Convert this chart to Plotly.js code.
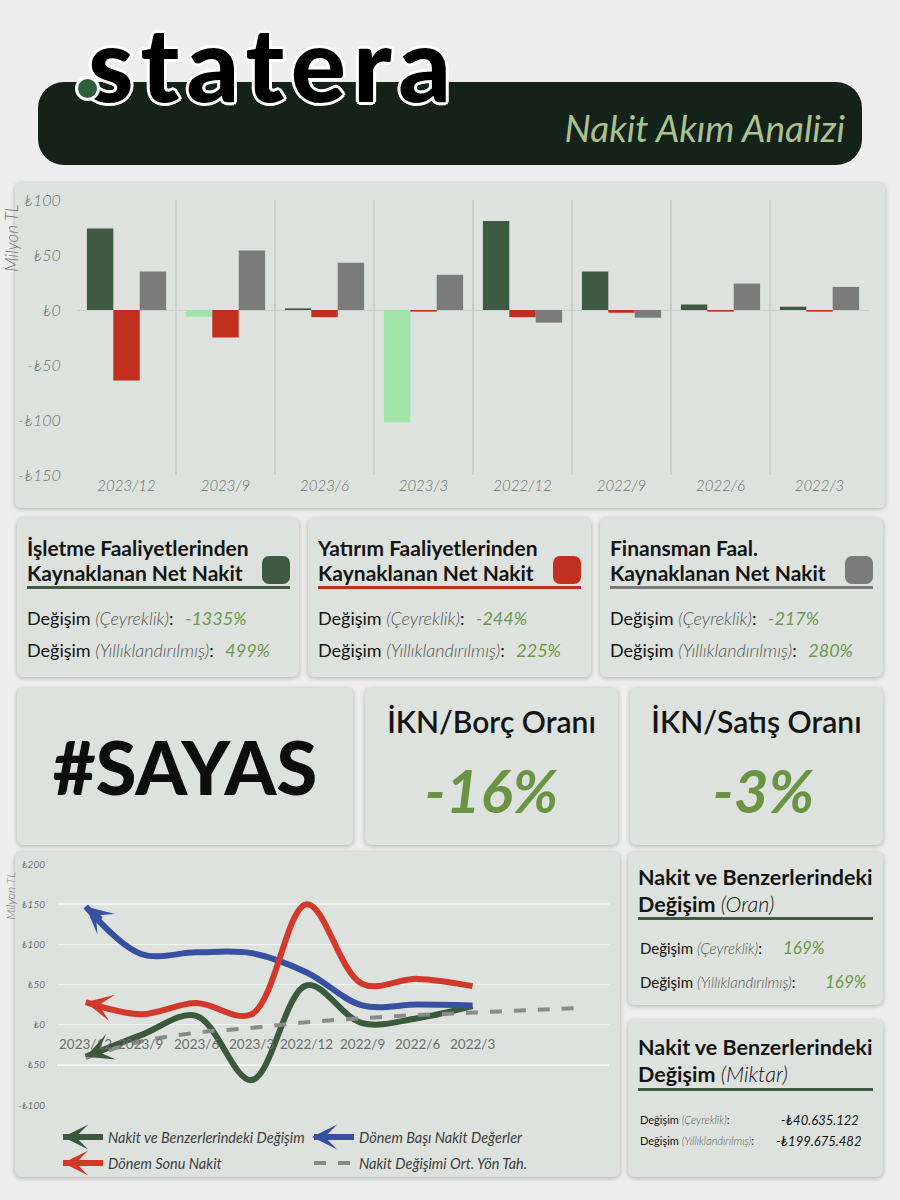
<!DOCTYPE html>
<html><head><meta charset="utf-8">
<script src="https://cdn.plot.ly/plotly-3.0.1.min.js"></script>
<style>
body{margin:0;background:#eeeeee;width:900px;height:1200px;position:relative;overflow:hidden;font-family:Lato,'Open Sans',sans-serif;color:#141414;}
.card{position:absolute;background:#dde2de;border-radius:6px;box-shadow:0 1px 5px rgba(0,0,0,0.28);}
.a{position:absolute;white-space:nowrap;}
.ttl{font-size:21px;line-height:25px;font-weight:700;}
.row{font-size:18px;line-height:24px;font-weight:400;}
.row i{font-weight:300;color:#555;}
.v{font-style:italic;color:#6c9a4a;margin-left:7px;}
.ul{position:absolute;height:3px;}
.sw{position:absolute;width:28px;height:28px;border-radius:7px;}
.big{text-align:center;}
.ax{font-style:italic;font-weight:300;color:#777;transform:rotate(-90deg);transform-origin:center;}
</style></head><body>

<!-- header -->
<div class="a" style="left:38px;top:82px;width:824px;height:83px;background:#14221a;border-radius:26px;"></div>
<div class="a" style="left:88px;top:11px;font-size:103px;line-height:103px;font-weight:900;letter-spacing:7px;color:#000;text-shadow:3px 0 0 #fff,-3px 0 0 #fff,0 3px 0 #fff,0 -3px 0 #fff,2px 2px 0 #fff,-2px 2px 0 #fff,2px -2px 0 #fff,-2px -2px 0 #fff;">statera</div>
<div class="a" style="left:75px;top:76px;width:25px;height:25px;border-radius:50%;background:#2f5f3d;border:3px solid #fff;box-sizing:border-box;"></div>
<div class="a" style="left:380px;width:465px;text-align:right;top:106px;font-size:37px;line-height:44px;font-style:italic;font-weight:400;color:#abc190;">Nakit Akım Analizi</div>

<!-- bar chart card -->
<div class="card" id="bar" style="left:15px;top:183px;width:870px;height:325px;"></div>
<div class="a ax" style="left:-28px;top:228px;width:80px;text-align:center;font-size:17px;line-height:20px;">Milyon TL</div>

<!-- three cards -->
<div class="card" style="left:17px;top:518px;width:282px;height:159px;"></div>
<div class="card" style="left:308px;top:518px;width:283px;height:159px;"></div>
<div class="card" style="left:600px;top:518px;width:283px;height:159px;"></div>

<div class="a ttl" style="left:27px;top:535px;">İşletme Faaliyetlerinden<br>Kaynaklanan Net Nakit</div>
<div class="sw" style="left:262px;top:556px;background:#3e5b41;"></div>
<div class="ul" style="left:27px;top:586px;width:263px;background:#3e5b41;"></div>
<div class="a row" style="left:27px;top:606px;">Değişim <i>(Çeyreklik)</i>: <span class="v">-1335%</span></div>
<div class="a row" style="left:27px;top:638px;">Değişim <i>(Yıllıklandırılmış)</i>: <span class="v">499%</span></div>

<div class="a ttl" style="left:318px;top:535px;">Yatırım Faaliyetlerinden<br>Kaynaklanan Net Nakit</div>
<div class="sw" style="left:553px;top:556px;background:#c1301e;"></div>
<div class="ul" style="left:318px;top:586px;width:263px;background:#c1301e;"></div>
<div class="a row" style="left:318px;top:606px;">Değişim <i>(Çeyreklik)</i>: <span class="v">-244%</span></div>
<div class="a row" style="left:318px;top:638px;">Değişim <i>(Yıllıklandırılmış)</i>: <span class="v">225%</span></div>

<div class="a ttl" style="left:610px;top:535px;">Finansman Faal.<br>Kaynaklanan Net Nakit</div>
<div class="sw" style="left:845px;top:556px;background:#7b7b7b;"></div>
<div class="ul" style="left:610px;top:586px;width:263px;background:#7b7b7b;"></div>
<div class="a row" style="left:610px;top:606px;">Değişim <i>(Çeyreklik)</i>: <span class="v">-217%</span></div>
<div class="a row" style="left:610px;top:638px;">Değişim <i>(Yıllıklandırılmış)</i>: <span class="v">280%</span></div>

<!-- second row -->
<div class="card" style="left:17px;top:688px;width:336px;height:157px;"></div>
<div class="card" style="left:365px;top:688px;width:253px;height:157px;"></div>
<div class="card" style="left:630px;top:688px;width:253px;height:157px;"></div>
<div class="a big" style="left:17px;width:336px;top:722px;font-size:74px;line-height:90px;font-weight:900;color:#0d0d0d;">#SAYAS</div>
<div class="a big" style="left:365px;width:253px;top:703px;font-size:30px;line-height:36px;font-weight:600;">İKN/Borç Oranı</div>
<div class="a big" style="left:365px;width:253px;top:755px;font-size:60px;line-height:70px;font-weight:700;font-style:italic;color:#6a9441;">-16%</div>
<div class="a big" style="left:630px;width:253px;top:703px;font-size:30px;line-height:36px;font-weight:600;">İKN/Satış Oranı</div>
<div class="a big" style="left:637px;width:253px;top:755px;font-size:60px;line-height:70px;font-weight:700;font-style:italic;color:#6a9441;">-3%</div>

<!-- line chart card -->
<div class="card" id="line" style="left:15px;top:852px;width:605px;height:325px;"></div>
<div class="a ax" style="left:-19px;top:889px;width:60px;text-align:center;font-size:12px;line-height:14px;">Milyon TL</div>

<!-- right cards -->
<div class="card" style="left:628px;top:852px;width:255px;height:153px;"></div>
<div class="a" style="left:638px;top:864px;font-size:21.5px;line-height:27px;font-weight:700;">Nakit ve Benzerlerindeki<br>Değişim <span style="font-style:italic;font-weight:300;">(Oran)</span></div>
<div class="ul" style="left:638px;top:917px;width:235px;background:#3e5b41;"></div>
<div class="a" style="left:640px;top:938px;font-size:15px;line-height:20px;">Değişim <i style="font-weight:300;color:#555;">(Çeyreklik)</i>:</div>
<div class="a" style="left:783px;top:937px;font-size:17px;line-height:22px;font-style:italic;color:#6c9a4a;">169%</div>
<div class="a" style="left:640px;top:972px;font-size:15px;line-height:20px;">Değişim <i style="font-weight:300;color:#555;">(Yıllıklandırılmış)</i>:</div>
<div class="a" style="left:825px;top:971px;font-size:17px;line-height:22px;font-style:italic;color:#6c9a4a;">169%</div>

<div class="card" style="left:628px;top:1020px;width:255px;height:157px;"></div>
<div class="a" style="left:638px;top:1034px;font-size:21.5px;line-height:27px;font-weight:700;">Nakit ve Benzerlerindeki<br>Değişim <span style="font-style:italic;font-weight:300;">(Miktar)</span></div>
<div class="ul" style="left:638px;top:1088px;width:235px;background:#3e5b41;"></div>
<div class="a" style="left:640px;top:1112px;font-size:11px;line-height:16px;">Değişim <i style="font-weight:300;color:#555;">(Çeyreklik)</i>:</div>
<div class="a" style="left:781px;top:1111px;font-size:13px;line-height:18px;font-style:italic;">-₺40.635.122</div>
<div class="a" style="left:640px;top:1133px;font-size:11px;line-height:16px;">Değişim <i style="font-weight:300;color:#555;">(Yıllıklandırılmış)</i>:</div>
<div class="a" style="left:776px;top:1132px;font-size:13px;line-height:18px;font-style:italic;">-₺199.675.482</div>

<script>
// ---------- data ----------
const categories = ['2023/12','2023/9','2023/6','2023/3','2022/12','2022/9','2022/6','2022/3'];
const operatingCF = [74, -6, 1.5, -102, 81, 35, 5, 3];
const investingCF = [-64, -25, -6.5, -1.5, -6.5, -2.5, -1.5, -1.5];
const financingCF = [35, 54, 43, 32, -11.5, -7, 24, 21];
const barTickVals = [100, 50, 0, -50, -100, -150];
const barTickText = ['₺100', '₺50', '₺0', '-₺50', '-₺100', '-₺150'];

const cashChange = [-40, -13, 11, -69, 49, 2, 8, 23];
const cashBegin = [147, 88, 90, 89, 65, 24, 25, 24];
const cashEnd = [28, 13, 27, 13, 150, 51, 57, 48];
const trendValues = [-41, -21, -10, -4, 3, 8, 12, 15, 18, 21];   // 8 periods + 2 forecast periods
const lineTickVals = [200, 150, 100, 50, 0, -50, -100];
const lineTickText = ['₺200', '₺150', '₺100', '₺50', '₺0', '-₺50', '-₺100'];
const seriesNames = ['Nakit ve Benzerlerindeki Değişim', 'Dönem Başı Nakit Değerler', 'Dönem Sonu Nakit', 'Nakit Değişimi Ort. Yön Tah.'];

// ---------- styles ----------
const C = {dark:'#3e5b41', light:'#a0e4a8', red:'#c1301e', grey:'#7b7b7b',
           lgreen:'#3b5a3c', lblue:'#3651a2', lred:'#d3392a', ltrend:'#8a8a8a'};
const FONT = 'Lato, "Open Sans", sans-serif';

// ---------- bar chart ----------
const barTraces = [
  {type:'bar', x:categories, y:operatingCF, marker:{color:operatingCF.map(v => v < 0 ? C.light : C.dark)}, hoverinfo:'y'},
  {type:'bar', x:categories, y:investingCF, marker:{color:C.red}, hoverinfo:'y'},
  {type:'bar', x:categories, y:financingCF, marker:{color:C.grey}, hoverinfo:'y'}
];
const barLayout = {
  width:870, height:325, margin:{l:62, r:16, t:17, b:33},
  paper_bgcolor:'rgba(0,0,0,0)', plot_bgcolor:'rgba(0,0,0,0)',
  barmode:'group', bargap:0.2, bargroupgap:0, showlegend:false,
  xaxis:{type:'category', tickson:'boundaries', showgrid:true, gridcolor:'#cbcfcb', gridwidth:1.5,
         ticks:'outside', ticklen:8, tickcolor:'rgba(0,0,0,0)', showline:false, zeroline:false,
         tickfont:{family:FONT, size:15, color:'#707070', style:'italic', weight:300}},
  yaxis:{range:[-150, 100], tickvals:barTickVals, ticktext:barTickText, showgrid:false,
         zeroline:true, zerolinecolor:'#cbcfcb', zerolinewidth:1,
         ticks:'outside', ticklen:12, tickcolor:'rgba(0,0,0,0)',
         tickfont:{family:FONT, size:16, color:'#707070', style:'italic', weight:300}}
};
Plotly.newPlot('bar', barTraces, barLayout, {displayModeBar:false, staticPlot:true});

// ---------- line chart ----------
const xi = categories.map((_, i) => i);
const xTrend = trendValues.map((_, i) => i);
const lineTraces = [
  {type:'scatter', mode:'lines', name:seriesNames[0], x:xi, y:cashChange, legend:'legend', line:{color:C.lgreen, width:6, shape:'spline', smoothing:1}},
  {type:'scatter', mode:'lines', name:seriesNames[1], x:xi, y:cashBegin, legend:'legend', line:{color:C.lblue, width:6, shape:'spline', smoothing:1}},
  {type:'scatter', mode:'lines', name:seriesNames[2], x:xi, y:cashEnd, legend:'legend2', line:{color:C.lred, width:6, shape:'spline', smoothing:1}},
  {type:'scatter', mode:'lines', name:seriesNames[3], x:xTrend, y:trendValues, legend:'legend2', line:{color:C.ltrend, width:4, dash:'dash', shape:'spline'}}
];
function startArrow(y, color) {
  const f = 0.3;
  return {x:0, y:y[0], ax:f, ay:y[0] + f * (y[1] - y[0]), xref:'x', yref:'y', axref:'x', ayref:'y',
          text:'', showarrow:true, arrowhead:3, arrowsize:0.75, arrowwidth:6, arrowcolor:color};
}
function legendArrow(px, py, color) {
  return {x:px, y:py, xref:'paper', yref:'paper', ax:18, ay:0, text:'', showarrow:true,
          arrowhead:3, arrowsize:0.7, arrowwidth:6, arrowcolor:color};
}
const catLabels = categories.map((c, i) => ({x:i, y:0, xref:'x', yref:'y', text:c, showarrow:false,
  yanchor:'top', yshift:-9, font:{family:FONT, size:13.5, color:'#6e6e6e'}}));
const legendFont = {family:FONT, size:14.5, color:'#3e3e3e', style:'italic'};
const legendBase = {orientation:'h', xref:'container', yref:'container', x:0.0711, xanchor:'left', yanchor:'middle',
                    entrywidth:196, entrywidthmode:'pixels', itemwidth:40, font:legendFont, bgcolor:'rgba(0,0,0,0)'};
const lineLayout = {
  width:605, height:325, margin:{l:42, r:11, t:12, b:72, autoexpand:false},
  paper_bgcolor:'rgba(0,0,0,0)', plot_bgcolor:'rgba(0,0,0,0)',
  xaxis:{range:[-0.52, 9.47], showgrid:false, zeroline:false, showticklabels:false, showline:false},
  yaxis:{range:[-100, 200], tickvals:lineTickVals, ticktext:lineTickText, showgrid:true,
         gridcolor:'#f3f5f3', gridwidth:1.5, zeroline:true, zerolinecolor:'#f3f5f3', zerolinewidth:1.5,
         ticks:'outside', ticklen:9, tickcolor:'rgba(0,0,0,0)',
         tickfont:{family:FONT, size:10, color:'#777', style:'italic'}},
  showlegend:true,
  legend:Object.assign({}, legendBase, {y:0.1231}),
  legend2:Object.assign({}, legendBase, {y:0.0431}),
  annotations:[...catLabels,
    startArrow(cashChange, C.lgreen), startArrow(cashBegin, C.lblue), startArrow(cashEnd, C.lred),
    legendArrow(0.011, -0.1328, C.lgreen), legendArrow(0.462, -0.1328, C.lblue), legendArrow(0.011, -0.2407, C.lred)]
};
Plotly.newPlot('line', lineTraces, lineLayout, {displayModeBar:false, staticPlot:true});
</script>
</body></html>
